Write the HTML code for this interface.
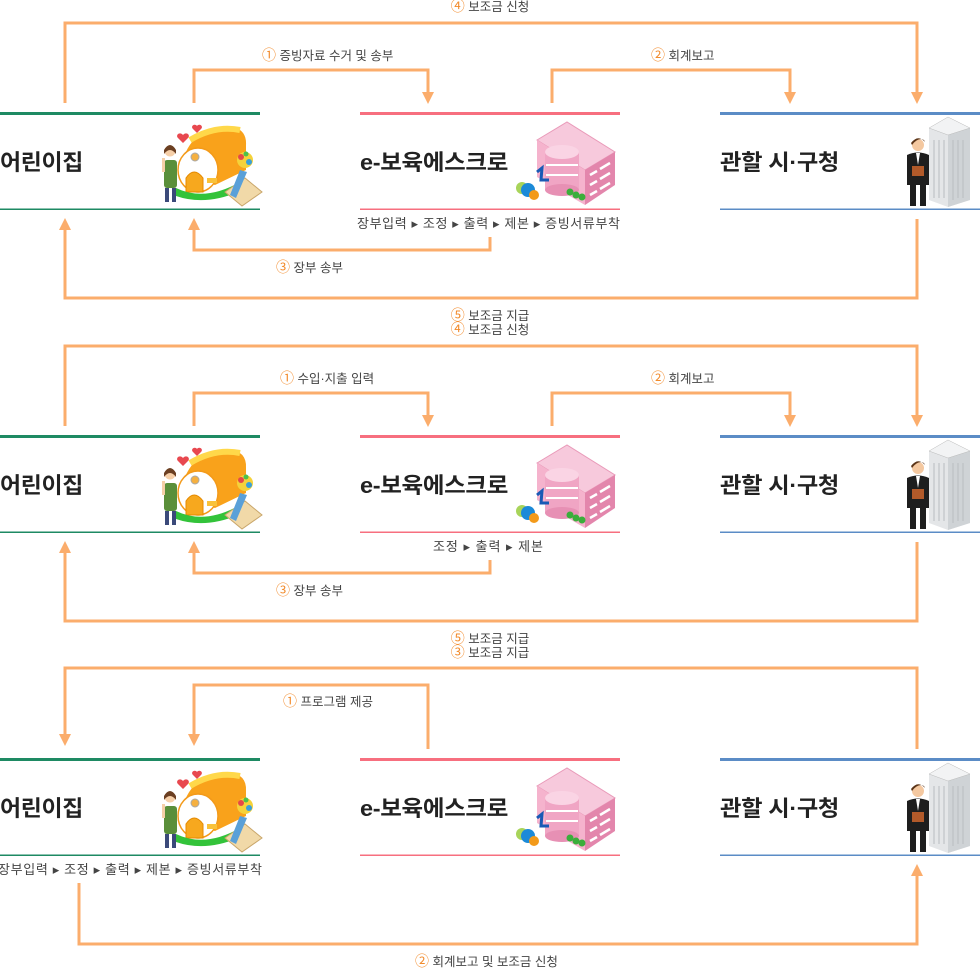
<!DOCTYPE html>
<html><head><meta charset="utf-8"><style>
html,body{margin:0;padding:0;background:#fff}
svg{display:block}
text{font-family:"Liberation Sans","Noto Sans CJK KR",sans-serif}
.lb{font-size:12.5px;fill:#444}
.n{fill:#f28a2a;font-size:14px}
.nm{font-size:22px;font-weight:bold;fill:#222;letter-spacing:-0.3px}
.sub{font-size:13px;fill:#444}
.ln{stroke:#fbad6c;stroke-width:3;fill:none}
.ar{fill:#fbad6c}
</style></head><body>
<svg width="980" height="969" viewBox="0 0 980 969" xmlns="http://www.w3.org/2000/svg">
<defs>
<g id="kid">
  <path d="M183 135c-3-4-8 0-5 3l5 5 5-5c3-3-2-7-5-3z" fill="#e8484f"/>
  <path d="M197 126c-2-3-7 0-4 3l4 4 4-4c3-3-2-6-4-3z" fill="#e8484f"/>
  <path d="M180 175 Q185 128 228 126 Q247 128 246 145 L246 170 L215 185 Z" fill="#f9a21b"/>
  <path d="M190 140 Q215 125 240 130" stroke="#ffd84a" stroke-width="6" fill="none"/>
  <ellipse cx="198" cy="170" rx="20" ry="22" fill="#fff" stroke="#f39a1a" stroke-width="1.5"/>
  <circle cx="195" cy="157" r="4" fill="#f5b040" stroke="#aaa"/>
  <path d="M186 192 V178 Q194 166 203 178 V192 Z" fill="#f7a81e" stroke="#e58a00"/>
  <path d="M176 188 Q205 202 240 182 L238 192 Q205 206 176 196Z" fill="#33c33a"/>
  <path d="M225 192 L245 178 L262 192 L242 206 Z" fill="#f1d9a8" stroke="#c9a66a"/>
  <path d="M230 195 L240 170 L247 172 L236 198Z" fill="#5aa0d8"/>
  <circle cx="245" cy="160" r="8" fill="#f5d23a"/><circle cx="241" cy="157" r="3" fill="#e54848"/><circle cx="249" cy="162" r="3" fill="#3aa0d8"/><circle cx="246" cy="154" r="2.5" fill="#4cc04c"/>
  <rect x="207" y="178" width="10" height="5" fill="#f9c23a"/>
  <circle cx="170" cy="151" r="5.5" fill="#f6cfa8"/>
  <path d="M164 150 Q170 140 176 150 L176 154 Q170 146 164 154Z" fill="#6b3f22"/>
  <rect x="164" y="160" width="13" height="28" rx="3" fill="#5a8f3a"/>
  <rect x="162" y="158" width="3" height="14" fill="#f6cfa8"/>
  <rect x="165" y="188" width="4" height="14" fill="#3b4a7a"/><rect x="172" y="188" width="4" height="14" fill="#3b4a7a"/>
</g>
<g id="esc">
  <path d="M537 140 L567 122 L615 152 L585 170 Z" fill="#f7c9dc" stroke="#e99ab9"/>
  <path d="M537 140 L585 170 L585 205 L537 177 Z" fill="#f5b3cd"/>
  <path d="M585 170 L615 152 L615 185 L585 205 Z" fill="#e386ac"/>
  <g stroke="#fff" stroke-width="2.5"><path d="M590 175 L597 171 M600 169 L610 163 M590 185 L597 181 M600 179 L610 173 M590 195 L597 191 M600 189 L610 183"/></g>
  <rect x="545" y="152" width="34" height="38" fill="#f0a5c4"/>
  <ellipse cx="562" cy="152" rx="17" ry="7" fill="#fad4e4"/>
  <ellipse cx="562" cy="190" rx="17" ry="6" fill="#e790b4"/>
  <g stroke="#fff" stroke-width="2"><path d="M546 165 H578 M546 175 H578"/></g>
  <path d="M537 172 L542 168 L541 180 L549 180" stroke="#1a5ab5" stroke-width="3" fill="none"/>
  <circle cx="522" cy="188" r="6" fill="#a8d45a"/><circle cx="528" cy="190" r="7" fill="#1b8ad8"/><circle cx="534" cy="195" r="5" fill="#f39a1a"/>
  <circle cx="570" cy="192" r="3.5" fill="#3bae3b"/><circle cx="576" cy="195" r="3.5" fill="#3bae3b"/><circle cx="582" cy="197" r="3.5" fill="#3bae3b"/>
</g>
<g id="gov">
  <path d="M929 128 L948 117 L970 128 L970 200 L948 207 L929 200Z" fill="#e4e6e8"/>
  <path d="M948 128 L970 128 L970 200 L948 207Z" fill="#cfd3d6"/>
  <path d="M929 128 L948 117 L970 128 L948 135Z" fill="#f2f3f4" stroke="#bbb" stroke-width="0.5"/>
  <g stroke="#b8bcc0" stroke-width="1"><path d="M934 140 V198 M939 140 V198 M944 140 V198 M953 140 V200 M958 140 V198 M963 140 V198"/></g>
  <circle cx="918" cy="145" r="6" fill="#f4c8a0"/>
  <path d="M911 143 Q918 134 925 142 L924 140 Q918 137 912 145Z" fill="#5a3418"/>
  <path d="M907 155 Q918 150 929 155 L929 185 L907 185Z" fill="#1e1e1e"/>
  <path d="M916 153 L918 165 L920 153Z" fill="#fff"/>
  <rect x="912" y="166" width="12" height="10" fill="#b25a2a"/>
  <rect x="910" y="185" width="6" height="21" fill="#1e1e1e"/><rect x="920" y="185" width="6" height="21" fill="#1e1e1e"/>
</g>
<g id="cols">
  <rect x="0" y="112" width="260" height="3" fill="#1e8a63"/><rect x="0" y="208.5" width="260" height="1.5" fill="#1e8a63"/>
  <rect x="360" y="112" width="260" height="3" fill="#f76f7f"/><rect x="360" y="208.5" width="260" height="1.5" fill="#f76f7f"/>
  <rect x="720" y="112" width="260" height="3" fill="#5b8cc6"/><rect x="720" y="208.5" width="260" height="1.5" fill="#5b8cc6"/>
  <text x="0" y="170" class="nm" textLength="83" lengthAdjust="spacingAndGlyphs">어린이집</text>
  <text x="360" y="170" class="nm" textLength="148" lengthAdjust="spacingAndGlyphs">e-보육에스크로</text>
  <text x="720" y="170" class="nm" textLength="119" lengthAdjust="spacingAndGlyphs">관할 시·구청</text>
  <use href="#kid"/><use href="#esc"/><use href="#gov"/>
</g>
</defs>

<!-- Panel 1 -->
<use href="#cols"/>
<text x="490" y="11" class="lb" text-anchor="middle"><tspan class="n">④</tspan> 보조금 신청</text>
<path class="ln" d="M65 103 V23 H917 V92"/><path class="ar" d="M911 92 H923 L917 104Z"/>
<text x="262" y="60" class="lb"><tspan class="n">①</tspan> 증빙자료 수거 및 송부</text>
<path class="ln" d="M194 103 V70 H428 V92"/><path class="ar" d="M422 92 H434 L428 104Z"/>
<text x="651" y="60" class="lb"><tspan class="n">②</tspan> 회계보고</text>
<path class="ln" d="M552 103 V70 H790 V92"/><path class="ar" d="M784 92 H796 L790 104Z"/>
<text x="357" y="228" class="sub" textLength="263" lengthAdjust="spacing">장부입력 ▸ 조정 ▸ 출력 ▸ 제본 ▸ 증빙서류부착</text>
<path class="ln" d="M490 237 V250 H194 V230"/><path class="ar" d="M188 230 H200 L194 218Z"/>
<text x="276" y="272" class="lb"><tspan class="n">③</tspan> 장부 송부</text>
<path class="ln" d="M917 219 V298 H65 V230"/><path class="ar" d="M59 230 H71 L65 218Z"/>
<text x="490" y="320" class="lb" text-anchor="middle"><tspan class="n">⑤</tspan> 보조금 지급</text>

<!-- Panel 2 -->
<g transform="translate(0,323)">
<use href="#cols"/>
<text x="490" y="11" class="lb" text-anchor="middle"><tspan class="n">④</tspan> 보조금 신청</text>
<path class="ln" d="M65 103 V23 H917 V92"/><path class="ar" d="M911 92 H923 L917 104Z"/>
<text x="280" y="60" class="lb"><tspan class="n">①</tspan> 수입·지출 입력</text>
<path class="ln" d="M194 103 V70 H428 V92"/><path class="ar" d="M422 92 H434 L428 104Z"/>
<text x="651" y="60" class="lb"><tspan class="n">②</tspan> 회계보고</text>
<path class="ln" d="M552 103 V70 H790 V92"/><path class="ar" d="M784 92 H796 L790 104Z"/>
<text x="433" y="228" class="sub" textLength="110" lengthAdjust="spacing">조정 ▸ 출력 ▸ 제본</text>
<path class="ln" d="M490 237 V250 H194 V230"/><path class="ar" d="M188 230 H200 L194 218Z"/>
<text x="276" y="272" class="lb"><tspan class="n">③</tspan> 장부 송부</text>
<path class="ln" d="M917 219 V298 H65 V230"/><path class="ar" d="M59 230 H71 L65 218Z"/>
<text x="490" y="320" class="lb" text-anchor="middle"><tspan class="n">⑤</tspan> 보조금 지급</text>
</g>

<!-- Panel 3 -->
<g transform="translate(0,646)">
<use href="#cols"/>
<text x="490" y="11" class="lb" text-anchor="middle"><tspan class="n">③</tspan> 보조금 지급</text>
<path class="ln" d="M917 103 V22 H65 V88"/><path class="ar" d="M59 88 H71 L65 100Z"/>
<text x="283" y="60" class="lb"><tspan class="n">①</tspan> 프로그램 제공</text>
<path class="ln" d="M428 103 V39 H194 V88"/><path class="ar" d="M188 88 H200 L194 100Z"/>
<text x="-2" y="228" class="sub" textLength="264" lengthAdjust="spacing">장부입력 ▸ 조정 ▸ 출력 ▸ 제본 ▸ 증빙서류부착</text>
<path class="ln" d="M79 237 V298 H917 V230"/><path class="ar" d="M911 230 H923 L917 218Z"/>
<text x="415" y="320" class="lb"><tspan class="n">②</tspan> 회계보고 및 보조금 신청</text>
</g>
</svg>
</body></html>
